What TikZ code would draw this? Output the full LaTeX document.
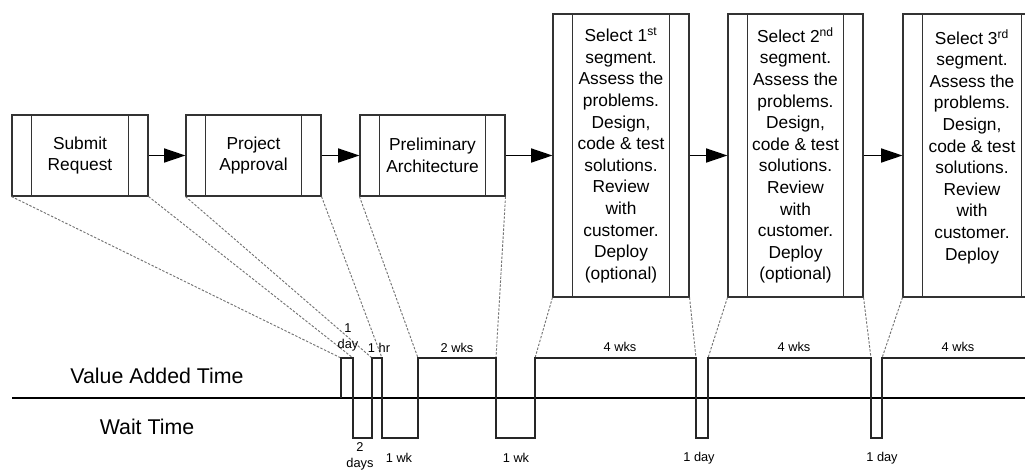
\documentclass[tikz,border=0pt]{standalone}
\usepackage{fontspec}
\setmainfont{Liberation Sans}
\usetikzlibrary{arrows.meta}

\begin{document}
\begin{tikzpicture}[x=0.75pt,y=0.75pt,yscale=-1,xscale=1,
  procbox/.style={draw=black!80,line width=0.8pt,inner sep=0pt,align=center,font=\fontsize{13}{16.2}\selectfont,minimum height=60.75pt},
  tallbox/.style={procbox,minimum height=212.25pt},
  flowarrow/.style={line width=1.2pt,-{Triangle[length=16pt,width=10.5pt]}},
  zoomline/.style={black!55,line width=0.7pt,dash pattern=on 1.8pt off 1.2pt},
  timeline/.style={line width=0.9pt,black!85},
  bigtext/.style={font=\fontsize{16}{19}\selectfont},
  durtext/.style={font=\fontsize{9.6}{12}\selectfont,align=center,inner sep=0pt}]
\path[use as bounding box] (0,0) rectangle (1025,471);
\clip (0,0) rectangle (1025,471);

% Process Boxes
\node (b1) at (80,155.5) [procbox,minimum width=102pt] {Submit\\Request};
\node (b2) at (253.5,155.5) [procbox,minimum width=101.25pt] {Project\\Approval};
\node (b3) at (432.5,155.5) [procbox,minimum width=108.75pt] {Preliminary\\Architecture};
\node (b4) at (621,155.5) [tallbox,minimum width=102pt] {Select 1\textsuperscript{st}\\segment.\\Assess the\\problems.\\Design,\\code \& test\\solutions.\\Review\\with\\customer.\\Deploy\\(optional)};
\node (b5) at (795.5,155.5) [tallbox,minimum width=101.25pt] {Select 2\textsuperscript{nd}\\segment.\\Assess the\\problems.\\Design,\\code \& test\\solutions.\\Review\\with\\customer.\\Deploy\\(optional)};
\node (b6) at (972,155.5) [tallbox,minimum width=103.5pt] {Select 3\textsuperscript{rd}\\segment.\\Assess the\\problems.\\Design,\\code \& test\\solutions.\\Review\\with\\customer.\\Deploy\\~};

%Side Bars
\foreach \b in {b1,b2,b3,b4,b5,b6} {
  \draw[black!80,line width=0.8pt] ([xshift=15pt]\b.north west) -- ([xshift=15pt]\b.south west);
  \draw[black!80,line width=0.8pt] ([xshift=-15pt]\b.north east) -- ([xshift=-15pt]\b.south east);
}

%Arrows
\draw[flowarrow] (b1) -- (b2);
\draw[flowarrow] (b2) -- (b3);
\draw[flowarrow] (b3) -- (b4);
\draw[flowarrow] (b4) -- (b5);
\draw[flowarrow] (b5) -- (b6);

%Time Line Points
\coordinate (t1) at (341,358);
\coordinate (t2) at (353,358);
\coordinate (t3) at (372,358);
\coordinate (t4) at (382,358);
\coordinate (t5) at (418,358);
\coordinate (t6) at (496,358);
\coordinate (t7) at (535,358);
\coordinate (t8) at (696,358);
\coordinate (t9) at (708,358);
\coordinate (t10) at (871,358);
\coordinate (t11) at (882,358);

%Zoom Lines
\draw[zoomline] (b1.south west) -- (t1);
\draw[zoomline] (b1.south east) -- (t2);
\draw[zoomline] (b2.south west) -- (t3);
\draw[zoomline] (b2.south east) -- (t4);
\draw[zoomline] (b3.south west) -- (t5);
\draw[zoomline] (b3.south east) -- (t6);
\draw[zoomline] (b4.south west) -- (t7);
\draw[zoomline] (b4.south east) -- (t8);
\draw[zoomline] (b5.south west) -- (t9);
\draw[zoomline] (b5.south east) -- (t10);
\draw[zoomline] (b6.south west) -- (t11);

%Axis and Wave
\draw[line width=1pt] (12,398) -- (1030,398);
\draw[timeline] (341,398) -- (t1) -- (t2) -- (353,438) -- (372,438) -- (t3) -- (t4) -- (382,438) -- (418,438) -- (t5) -- (t6) -- (496,438) -- (535,438) -- (t7) -- (t8) -- (696,438) -- (708,438) -- (t9) -- (t10) -- (871,438) -- (882,438) -- (t11) -- (1030,358);

% Text Node
\node (vat) at (157,376) [bigtext] {Value Added Time};
\node (wt) at (147,427) [bigtext] {Wait Time};
% Text Node
\node (d1) at (348,337) [durtext] {1\\day};
\node (d2) at (379,348) [durtext] {1 hr};
\node (d3) at (457,348) [durtext] {2 wks};
\node (d4) at (620,347) [durtext] {4 wks};
\node (d5) at (794,347) [durtext] {4 wks};
\node (d6) at (958,347) [durtext] {4 wks};
% Text Node
\node (w1) at (360,456) [durtext] {2\\days};
\node (w2) at (399,458) [durtext] {1 wk};
\node (w3) at (516,458) [durtext] {1 wk};
\node (w4) at (699,458) [durtext] {1 day};
\node (w5) at (882,458) [durtext] {1 day};

\end{tikzpicture}
\end{document}
